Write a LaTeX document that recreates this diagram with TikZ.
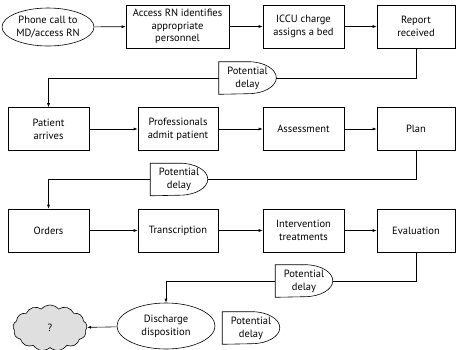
\documentclass[tikz,border=0pt]{standalone}
\usepackage{fontspec}
\setmainfont{PT Sans}
\usetikzlibrary{shapes.geometric,shapes.symbols,arrows.meta}

\tikzset{
  stepbox/.style={draw, rectangle, minimum width=81pt, minimum height=43pt, align=center, inner sep=1pt},
  oval/.style={draw, ellipse, align=center, inner sep=0pt},
  delaybox/.style={minimum width=57pt, minimum height=32pt, inner sep=0pt, align=center},
}
\newcommand{\delayshape}[1]{\draw (#1.north west) -- ([xshift=-28pt]#1.north east) arc[start angle=90, end angle=-90, x radius=28pt, y radius=16pt] -- (#1.south west) -- cycle;}

\begin{document}
\begin{tikzpicture}[x=1pt, y=-1pt, line width=0.6pt, >={Latex[length=4pt,width=3pt]},
  font=\fontsize{10.5}{12.8}\selectfont]
                \useasboundingbox (0,0) rectangle (456,349);
                % first row
                \node [oval, minimum width=92pt, minimum height=38pt] (phone) at (48,27) {Phone call to\\MD/access RN};
                \node [stepbox, minimum width=103pt] (access) at (177.5,26.5) {Access RN identifies\\appropriate\\personnel};
                \node [stepbox] (iccu) at (303.5,26.5) {ICCU charge\\assigns a bed};
                \node [stepbox, minimum width=78pt] (report) at (416,26.5) {Report\\received};
                % second row
                \node [stepbox] (patient) at (48.5,129) {Patient\\arrives};
                \node [stepbox, minimum width=80pt] (admit) at (178,129) {Professionals\\admit patient};
                \node [stepbox] (assess) at (303.5,129) {Assessment};
                \node [stepbox, minimum width=78pt] (plan) at (416,129) {Plan};
                % third row
                \node [stepbox] (orders) at (48.5,230.5) {Orders};
                \node [stepbox, minimum width=80pt] (transcr) at (178,230.5) {Transcription};
                \node [stepbox] (interv) at (303.5,230.5) {Intervention\\treatments};
                \node [stepbox, minimum width=78pt] (evalu) at (416,230.5) {Evaluation};
                % last row
                \node [oval, minimum width=98pt, minimum height=46pt] (disch) at (166,326) {Discharge\\disposition};
                \node [draw, cloud, cloud puffs=13, cloud puff arc=100, fill=gray!25, minimum width=74pt, minimum height=46pt, inner sep=0pt] (unknown) at (50,328) {?};
                % delays
                \node [delaybox] (delay1) at (247.5,78) {Potential\\delay};
                \node [delaybox] (delay2) at (179,179.5) {Potential\\delay};
                \node [delaybox] (delay3) at (304,281) {Potential\\delay};
                \node [delaybox] (legend) at (251,328) {Potential\\delay};
                \delayshape{delay1}
                \delayshape{delay2}
                \delayshape{delay3}
                \delayshape{legend}
                % arrows
                \draw [->] (phone) -- (access);
                \draw [->] (access) -- (iccu);
                \draw [->] (iccu) -- (report);
                \draw (report.south) |- (delay1.east);
                \draw [->] (delay1.west) -| (patient.north);
                \draw [->] (patient) -- (admit);
                \draw [->] (admit) -- (assess);
                \draw [->] (assess) -- (plan);
                \draw (plan.south) |- (delay2.east);
                \draw [->] (delay2.west) -| (orders.north);
                \draw [->] (orders) -- (transcr);
                \draw [->] (transcr) -- (interv);
                \draw [->] (interv) -- (evalu);
                \draw (evalu.south) |- (delay3.east);
                \draw [->] (delay3.west) -| (disch.north);
                \draw [->] (disch) -- (unknown);
\end{tikzpicture}
\end{document}
